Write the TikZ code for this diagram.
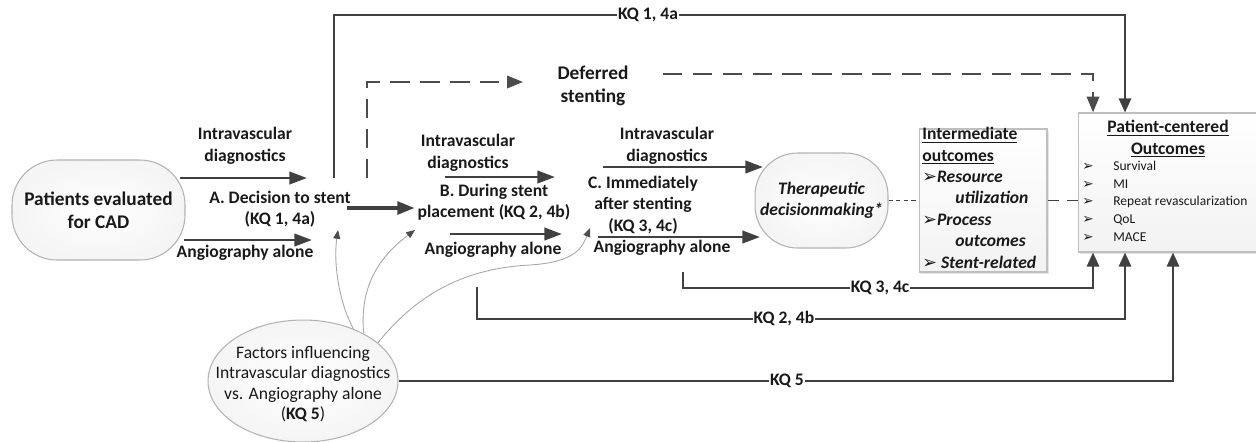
\documentclass[tikz,border=0pt]{standalone}
\usepackage{fontspec}
\setmainfont{Carlito}
\newfontfamily\dejavu{DejaVu Sans}
\usepackage{tikz}
\usetikzlibrary{positioning}
\usetikzlibrary{arrows.meta}
\usetikzlibrary{shapes.geometric}
\usetikzlibrary{shadows}

\newcommand{\arrbul}{{\mdseries\upshape\dejavu ➢}}
\newcommand{\outitem}[1]{\makebox[0.62cm][l]{\arrbul}#1}

\begin{document}
\begin{tikzpicture}[
          x=0.02cm, y=-0.02cm,
          every node/.style={text=black!90},
          lbl/.style={font=\fontsize{10}{12.2}\selectfont\bfseries, align=center, inner sep=0pt},
          bigl/.style={font=\fontsize{11}{13.2}\selectfont\bfseries, align=center, inner sep=0pt},
          pill/.style={draw=black!30, line width=0.6pt, rounded corners=#1, inner color=white, outer color=black!4},
          obox/.style={draw=black!25, line width=0.6pt, top color=white, bottom color=black!5, inner sep=0pt,
                       drop shadow={opacity=0.2, shadow xshift=1.2pt, shadow yshift=-1.2pt}},
          flow/.style={draw=black!75, line width=1.6pt, -{Triangle[length=10pt,width=7pt]}},
          kq/.style={draw=black!75, line width=1.1pt, -{Triangle[length=8pt,width=7pt]}},
          kqlabel/.style={lbl, fill=white, inner xsep=0.6pt},
          defer/.style={draw=black!70, line width=1.3pt, dash pattern=on 11pt off 6pt, -{Triangle[length=9pt,width=7pt]}},
          infl/.style={draw=black!35, line width=0.5pt, -{Triangle[length=5pt,width=4pt,color=black!70]}}
      ]
        \useasboundingbox (0,0) rectangle (1256,441);

        % start, decision points and end nodes
        \node[pill=0.9cm, bigl, minimum width=3.46cm, minimum height=2cm] (patients) at (98.5,210) {Patients evaluated\\for CAD};
        \node[pill=0.85cm, lbl, font=\fontsize{10}{12.2}\selectfont\bfseries\itshape,
              minimum width=2.66cm, minimum height=1.9cm] (therapy) at (821.5,200.5) {Therapeutic\\decisionmaking*};
        \node[obox, minimum width=2.56cm, minimum height=2.86cm] (inter) at (983,200.5) {};
        \node[obox, minimum width=3.68cm, minimum height=2.78cm] (outcomes) at (1170,182.5) {};
        \node[ellipse, draw=black!30, line width=0.6pt, inner color=white, outer color=black!4,
              minimum width=3.8cm, minimum height=2.44cm, inner sep=0pt] (factors) at (303,381) {};

        % texts in the boxes
        \node[lbl, align=left, anchor=north west, font=\fontsize{10}{12.2}\selectfont\bfseries] (intertext) at (922,127)
          {\underline{Intermediate}\\
           \underline{outcomes}\\
           \arrbul\textit{Resource}\\
           \hspace*{0.66cm}\textit{utilization}\\
           \arrbul\textit{Process}\\
           \hspace*{0.66cm}\textit{outcomes}\\
           \arrbul\ \textit{Stent-related}};
        \node[lbl] (outtitle) at (1168,139) {\underline{Patient-centered}\\\underline{Outcomes}};
        \node[anchor=north west, align=left, inner sep=0pt, font=\fontsize{7.7}{10}\selectfont] (outitems) at (1082,161)
          {\outitem{Survival}\\\outitem{MI}\\\outitem{Repeat revascularization}\\\outitem{QoL}\\\outitem{MACE}};
        \node[align=center, inner sep=0pt, font=\fontsize{10}{11.7}\selectfont] (factorstext) at (303,384)
          {Factors influencing\\Intravascular diagnostics\\vs. Angiography alone\\(\textbf{KQ 5})};

        % labels along the way
        \node[lbl] (ivA) at (245,146) {Intravascular\\diagnostics};
        \node[lbl] (angA) at (245,253) {Angiography alone};
        \node[lbl] (decA) at (280,209) {A. Decision to stent\\(KQ 1, 4a)};
        \node[lbl] (ivB) at (468,153) {Intravascular\\diagnostics};
        \node[lbl] (decB) at (494,202) {B. During stent\\placement (KQ 2, 4b)};
        \node[lbl] (angB) at (493,250) {Angiography alone};
        \node[lbl] (ivC) at (667,146) {Intravascular\\diagnostics};
        \node[lbl] (decC) at (643,205) {C. Immediately\\after stenting\\(KQ 3, 4c)};
        \node[lbl] (angC) at (662,248) {Angiography alone};
        \node[bigl] (deferred) at (593,86) {Deferred\\stenting};

        % free ends of the arrows
        \foreach \n/\x/\y in {ivAs/180/178, ivAe/307/178, angAs/184/240, angAe/312/240,
                              stentAs/347/208, stentAe/415/208, ivBs/445/177, ivBe/555/177,
                              angBs/450/234, angBe/562/234, ivCs/603/167, ivCe/763/167,
                              angCs/598/237, angCe/760/237, kqAs/334/178, defAs/367/178,
                              defAe/523/82, defBs/663/74, kqCs/683/272, kqBs/477/287,
                              aIn/338/230, bIn/415/230, cIn/590/228}
          \coordinate (\n) at (\x,\y);

        % intravascular diagnostics vs angiography alone
        \draw[flow] (ivAs) -- (ivAe);
        \draw[flow] (angAs) -- (angAe);
        \draw[flow, line width=2.4pt] (stentAs) -- (stentAe);
        \draw[flow] (ivBs) -- (ivBe);
        \draw[flow] (angBs) -- (angBe);
        \draw[flow] (ivCs) -- (ivCe);
        \draw[flow] (angCs) -- (angCe);

        % deferred stenting
        \draw[defer] (defAs) |- (defAe);
        \draw[defer] (defBs) -| (1093,0 |- outcomes.north);

        % key questions
        \draw[kq] (kqAs) |- (1125,15) -- (1125,0 |- outcomes.north);
        \draw[kq] (kqCs) |- (1093,288) -- (1093,0 |- outcomes.south);
        \draw[kq] (kqBs) |- (1125,319) -- (1125,0 |- outcomes.south);
        \draw[kq] (factors.east) -| (1173,0 |- outcomes.south);
        \node[kqlabel] (kq1) at (648,15) {KQ 1, 4a};
        \node[kqlabel] (kq3) at (880,288) {KQ 3, 4c};
        \node[kqlabel] (kq2) at (784,319) {KQ 2, 4b};
        \node[kqlabel] (kq5) at (787,381) {KQ 5};

        % outcomes chain
        \draw[draw=black!75, line width=1.1pt, dash pattern=on 2.5pt off 1.8pt] (therapy.east) -- (inter.west);
        \draw[draw=black!75, line width=1.1pt, dash pattern=on 6.8pt off 4.5pt] (inter.east) -- (inter.east -| outcomes.west);

        % factors influencing the choice
        \draw[infl] (factors.46) .. controls (340,305) and (333,265) .. (aIn);
        \draw[infl] (factors.38) .. controls (360,295) and (372,262) .. (bIn);
        \draw[infl] (factors.27) .. controls (420,290) and (470,268) .. (530,265)
                                 .. controls (575,262) and (582,248) .. (cIn);
      \end{tikzpicture}
\end{document}
